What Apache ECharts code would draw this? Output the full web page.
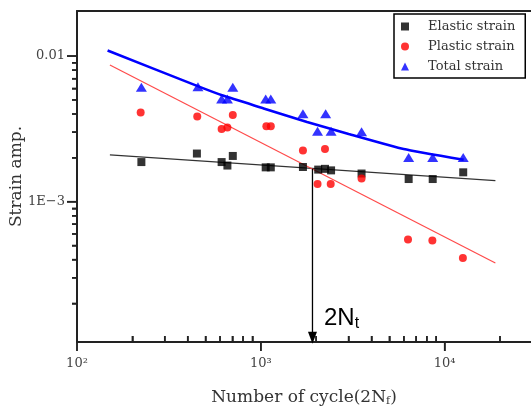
<!DOCTYPE html>
<html lang="en">
<head>
    <meta charset="UTF-8">
    <title>Strain amp. vs Number of cycle</title>
    <script src="https://cdn.jsdelivr.net/npm/echarts@6/dist/echarts.min.js"></script>
    <style>
        html, body { margin: 0; padding: 0; background: #fff; }
        #main { width: 531px; height: 412px; }
    </style>
</head>
<body>
<div id="main"></div>
<script>
    // axis range
    var X_MIN = 100, X_MAX = 29500;
    var Y_MIN = 1.086e-4, Y_MAX = 0.0204;

    // measured points [2Nf, strain amplitude]
    var elasticPts = [[224, 0.00187], [449, 0.00214], [612, 0.00187], [658, 0.00177], [704, 0.00206],
        [1063, 0.00172], [1133, 0.00172], [1695, 0.00173], [2052, 0.00166], [2234, 0.00168],
        [2411, 0.00164], [3532, 0.00156], [6372, 0.00143], [8612, 0.00143], [12620, 0.00159]];
    var plasticPts = [[222, 0.0041], [451, 0.00385], [612, 0.00315], [658, 0.00323], [704, 0.00394],
        [1072, 0.0033], [1133, 0.0033], [1695, 0.00225], [2234, 0.0023], [2035, 0.00132],
        [2400, 0.00132], [3532, 0.00144], [6320, 0.00055], [8575, 0.00054], [12570, 0.00041]];
    var totalPts = [[224, 0.0061], [455, 0.00616], [612, 0.00508], [658, 0.00508], [704, 0.0061],
        [1063, 0.00508], [1133, 0.00508], [1695, 0.00402], [2253, 0.00402], [2035, 0.00305],
        [2411, 0.00305], [3532, 0.00302], [6372, 0.00201], [8612, 0.00201], [12620, 0.00201]];

    // fitted lines
    var elasticFit = [[151, 0.002097], [18880, 0.001396]];
    var plasticFit = [[151, 0.00869], [18880, 0.000379]];
    var totalFit = [[146.7, 0.01093], [450, 0.00624], [628, 0.00533], [1036, 0.00437], [1784, 0.00352],
        [3004, 0.00292], [5984, 0.0023], [12690, 0.00194]];

    // transition life arrow
    var transitionLine = [[1910, 0.00168], [1910, 1.16e-4]];

    // ticks
    var xMajorTicks = [100, 1000, 10000];
    var xMinorTicks = [200, 300, 400, 500, 600, 700, 800, 900,
        2000, 3000, 4000, 5000, 6000, 7000, 8000, 9000, 20000];
    var xLabelValues = [100, 1000, 10000];
    var xLabelTexts = ['10²', '10³', '10⁴'];
    var yMajorTicks = [0.001, 0.01];
    var yMinorTicks = [0.0002, 0.0003, 0.0004, 0.0005, 0.0006, 0.0007, 0.0008, 0.0009,
        0.002, 0.003, 0.004, 0.005, 0.006, 0.007, 0.008, 0.009];
    var yLabelValues = [0.001, 0.01];
    var yLabelTexts = ['1E\u22123', '0.01'];

    var SERIF = 'DejaVu Serif';
    var AXIS_COLOR = '#222';

    function pickLabel(v, vals, texts) {
        for (var i = 0; i < vals.length; i++) {
            if (Math.abs(v - vals[i]) / vals[i] < 1e-6) return texts[i];
        }
        return '';
    }

    // helper axis that only carries a set of tick marks
    function tickAxis(extra) {
        var ax = {
            type: 'log',
            logBase: 10,
            axisLine: { show: false },
            axisLabel: { show: false },
            splitLine: { show: false }
        };
        for (var k in extra) ax[k] = extra[k];
        return ax;
    }

    var chart = echarts.init(document.getElementById('main'));

    var option = {
        animation: false,
        grid: { left: 77, right: 0, top: 11, bottom: 66 },
        legend: {
            data: ['Elastic strain', 'Plastic strain', 'Total strain'],
            orient: 'vertical',
            left: 394,
            top: 14,
            padding: [6, 10, 5, 7],
            itemGap: 7,
            itemWidth: 8,
            itemHeight: 8,
            borderColor: '#000',
            borderWidth: 1.5,
            borderRadius: 0,
            backgroundColor: '#fff',
            textStyle: { fontFamily: SERIF, fontSize: 13, color: '#333', padding: [0, 0, 0, 14] }
        },
        xAxis: [{
            type: 'log',
            logBase: 10,
            min: X_MIN,
            max: X_MAX,
            position: 'bottom',
            axisLine: { lineStyle: { color: AXIS_COLOR, width: 2 } },
            axisTick: { show: true, customValues: xMajorTicks, inside: false, length: 9,
                lineStyle: { color: AXIS_COLOR, width: 1.5 } },
            splitLine: { show: false },
            axisLabel: {
                customValues: xLabelValues,
                margin: 15,
                fontFamily: SERIF,
                fontSize: 13,
                color: '#444',
                formatter: function (v) { return pickLabel(v, xLabelValues, xLabelTexts); }
            },
            name: '{a|Number of cycle(2N}{f|f}{a|)}',
            nameLocation: 'middle',
            nameGap: 46,
            nameMoveOverlap: false,
            nameTextStyle: {
                rich: {
                    a: { fontFamily: SERIF, fontSize: 17, color: '#333' },
                    f: { fontFamily: SERIF, fontSize: 11, color: '#333', padding: [8, 0, 0, 0] }
                }
            }
        }, {
            type: 'log',
            logBase: 10,
            min: X_MIN,
            max: X_MAX,
            position: 'top',
            axisLine: { lineStyle: { color: AXIS_COLOR, width: 2 } },
            axisTick: { show: false },
            axisLabel: { show: false },
            splitLine: { show: false }
        }, tickAxis({
            min: X_MIN,
            max: X_MAX,
            position: 'bottom',
            axisTick: { show: true, customValues: xMinorTicks, inside: true, length: 6,
                lineStyle: { color: AXIS_COLOR, width: 1.5 } }
        })],
        yAxis: [{
            type: 'log',
            logBase: 10,
            min: Y_MIN,
            max: Y_MAX,
            position: 'left',
            axisLine: { lineStyle: { color: AXIS_COLOR, width: 2 } },
            axisTick: { show: true, customValues: yMajorTicks, inside: false, length: 10,
                lineStyle: { color: AXIS_COLOR, width: 1.5 } },
            splitLine: { show: false },
            axisLabel: {
                customValues: yLabelValues,
                margin: 12,
                fontFamily: SERIF,
                fontSize: 13,
                color: '#444',
                formatter: function (v) { return pickLabel(v, yLabelValues, yLabelTexts); }
            },
            name: 'Strain amp.',
            nameLocation: 'middle',
            nameGap: 52,
            nameMoveOverlap: false,
            nameTextStyle: { fontFamily: SERIF, fontSize: 17, color: '#333' }
        }, tickAxis({
            min: Y_MIN,
            max: Y_MAX,
            position: 'left',
            axisTick: { show: true, customValues: yMinorTicks, inside: false, length: 5,
                lineStyle: { color: AXIS_COLOR, width: 1.5 } }
        })],
        series: [
            {
                name: 'Elastic fit', type: 'line', data: elasticFit, symbol: 'none', silent: true,
                lineStyle: { color: '#333', width: 1.2 }, z: 2
            },
            {
                name: 'Plastic fit', type: 'line', data: plasticFit, symbol: 'none', silent: true,
                lineStyle: { color: '#ff4a4a', width: 1.2 }, z: 2
            },
            {
                name: 'Total fit', type: 'line', data: totalFit, symbol: 'none', silent: true, smooth: 0.15,
                lineStyle: { color: '#0000ff', width: 2.6 }, z: 2
            },
            {
                name: 'transition', type: 'line', data: transitionLine, symbol: 'none', silent: true,
                lineStyle: { color: '#000', width: 1.3 }, z: 3,
                markPoint: {
                    silent: true,
                    symbol: 'triangle',
                    symbolSize: [9, 12],
                    symbolRotate: 180,
                    itemStyle: { color: '#000' },
                    label: { show: false },
                    data: [{ coord: transitionLine[1] }]
                }
            },
            {
                name: 'Elastic strain', type: 'scatter', data: elasticPts, symbol: 'rect', symbolSize: 8,
                itemStyle: { color: '#000' }, z: 4
            },
            {
                name: 'Plastic strain', type: 'scatter', data: plasticPts, symbol: 'circle', symbolSize: 8,
                itemStyle: { color: '#ff0000' }, z: 4
            },
            {
                name: 'Total strain', type: 'scatter', data: totalPts, symbol: 'triangle', symbolSize: [11, 9],
                itemStyle: { color: '#0000ff' }, z: 4
            }
        ]
    };
    chart.setOption(option);

    // 2Nt label, plus tick marks placed through the axes' own scales
    var graphics = [{
        type: 'text',
        left: 324,
        top: 306,
        style: {
            text: '{n|2N}{t|t}',
            rich: {
                n: { fontFamily: 'Liberation Sans', fontSize: 24, fill: '#000' },
                t: { fontFamily: 'Liberation Sans', fontSize: 16, fill: '#000', padding: [12, 0, 0, 0] }
            }
        }
    }];
    function addTicks(values, dir, len) {
        values.forEach(function (v) {
            var p = chart.convertToPixel({ gridIndex: 0 }, dir === 'x' ? [v, Y_MIN] : [X_MIN, v]);
            var px = Number(p[0]), py = Number(p[1]);
            var shape = dir === 'x'
                ? { x1: px, y1: py, x2: px, y2: py + len }
                : { x1: px, y1: py, x2: px + len, y2: py };
            graphics.push({ type: 'line', z: 10, shape: shape, style: { stroke: AXIS_COLOR, lineWidth: 1.5 } });
        });
    }
    addTicks(xMajorTicks, 'x', 9);
    addTicks(xMinorTicks, 'x', -6);
    addTicks(yMajorTicks, 'y', -10);
    addTicks(yMinorTicks, 'y', -5);
    chart.setOption({ graphic: graphics });
</script>
</body>
</html>
